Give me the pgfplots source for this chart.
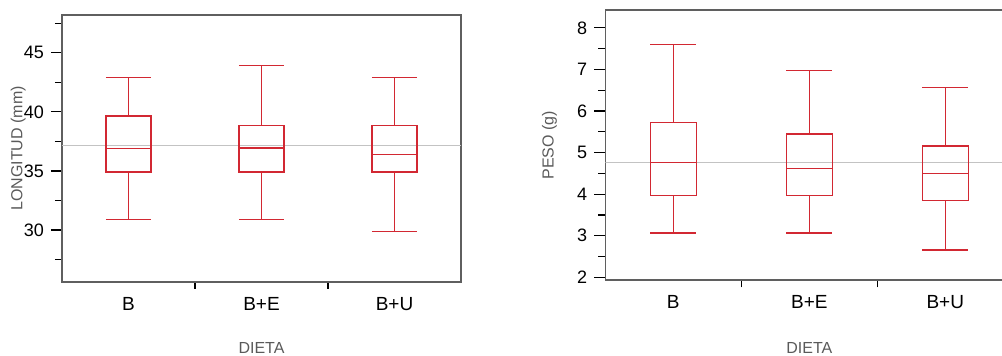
\documentclass[border=0pt]{standalone}
\usepackage{pgfplots}
\pgfplotsset{compat=1.18}
\usepgfplotslibrary{statistics}
\usepackage{fontspec}
\setmainfont{Liberation Sans}
\definecolor{boxred}{RGB}{210,40,50}
\definecolor{framegray}{RGB}{95,95,95}
\definecolor{meangray}{RGB}{195,195,195}
\definecolor{labgray}{RGB}{90,90,90}
\pgfplotsset{
  myaxis/.style={
    scale only axis,
    xmin=-0.5, xmax=2.5,
    xtick={0,1,2}, xticklabels={B,B+E,B+U},
    minor xtick={0.5,1.5},
    major x tick style={draw=none},
    tick align=outside,
    xtick pos=left, ytick pos=left,
    major tick length=5.5pt, minor tick length=3.5pt,
    axis line style={framegray, line width=0.8pt},
    tick style={black, line width=0.6pt},
    /pgf/number format/assume math mode=true,
    yticklabel style={font=\fontsize{9}{10}\selectfont, black},
    xticklabel style={font=\fontsize{9.5}{11}\selectfont, black, yshift=1.5pt},
    label style={font=\fontsize{8}{9}\selectfont, labgray},
    boxplot/draw direction=y,
  },
  mybox/.style={boxred, line width=0.65pt, solid},
}
\begin{document}
\begin{tikzpicture}
\useasboundingbox (0,0) rectangle (501pt,178pt);
\clip (0,0) rectangle (501pt,178pt);
\begin{axis}[myaxis,
  at={(31pt,37pt)}, anchor=south west,
  width=199.5pt, height=133.5pt,
  ymin=25.6, ymax=48.2,
  ytick={30,35,40,45}, minor ytick={27.5,32.5,37.5,42.5,47.5},
  ylabel={LONGITUD (mm)}, xlabel={DIETA},
  ylabel style={at={(axis description cs:-0.110,0.5)}, anchor=center},
  xlabel style={at={(axis description cs:0.5,-0.247)}, anchor=center},
]
\addplot[meangray, line width=0.6pt] coordinates {(-0.5,37.15) (2.5,37.15)};
\addplot[mybox, boxplot prepared={lower whisker=30.9, lower quartile=34.9, median=36.9, upper quartile=39.65, upper whisker=42.9, draw position=0, box extend=0.34, whisker extend=0.34}] coordinates {};
\addplot[mybox, boxplot prepared={lower whisker=30.9, lower quartile=34.9, median=36.95, upper quartile=38.85, upper whisker=43.9, draw position=1, box extend=0.34, whisker extend=0.34}] coordinates {};
\addplot[mybox, boxplot prepared={lower whisker=29.9, lower quartile=34.9, median=36.4, upper quartile=38.85, upper whisker=42.9, draw position=2, box extend=0.34, whisker extend=0.34}] coordinates {};
\end{axis}
\begin{axis}[myaxis,
  at={(302.65pt,37.85pt)}, anchor=south west,
  width=204pt, height=135.15pt,
  ymin=1.93, ymax=8.43,
  ytick={2,3,4,5,6,7,8}, minor ytick={2.5,3.5,4.5,5.5,6.5,7.5},
  ylabel={PESO (g)}, xlabel={DIETA},
  ylabel style={at={(axis description cs:-0.137,0.5)}, anchor=center},
  xlabel style={at={(axis description cs:0.5,-0.250)}, anchor=center},
]
\addplot[meangray, line width=0.6pt] coordinates {(-0.5,4.77) (2.5,4.77)};
\addplot[mybox, boxplot prepared={lower whisker=3.07, lower quartile=3.97, median=4.77, upper quartile=5.73, upper whisker=7.6, draw position=0, box extend=0.34, whisker extend=0.34}] coordinates {};
\addplot[mybox, boxplot prepared={lower whisker=3.07, lower quartile=3.97, median=4.62, upper quartile=5.45, upper whisker=6.97, draw position=1, box extend=0.34, whisker extend=0.34}] coordinates {};
\addplot[mybox, boxplot prepared={lower whisker=2.66, lower quartile=3.85, median=4.5, upper quartile=5.16, upper whisker=6.57, draw position=2, box extend=0.34, whisker extend=0.34}] coordinates {};
\end{axis}
\end{tikzpicture}
\end{document}
